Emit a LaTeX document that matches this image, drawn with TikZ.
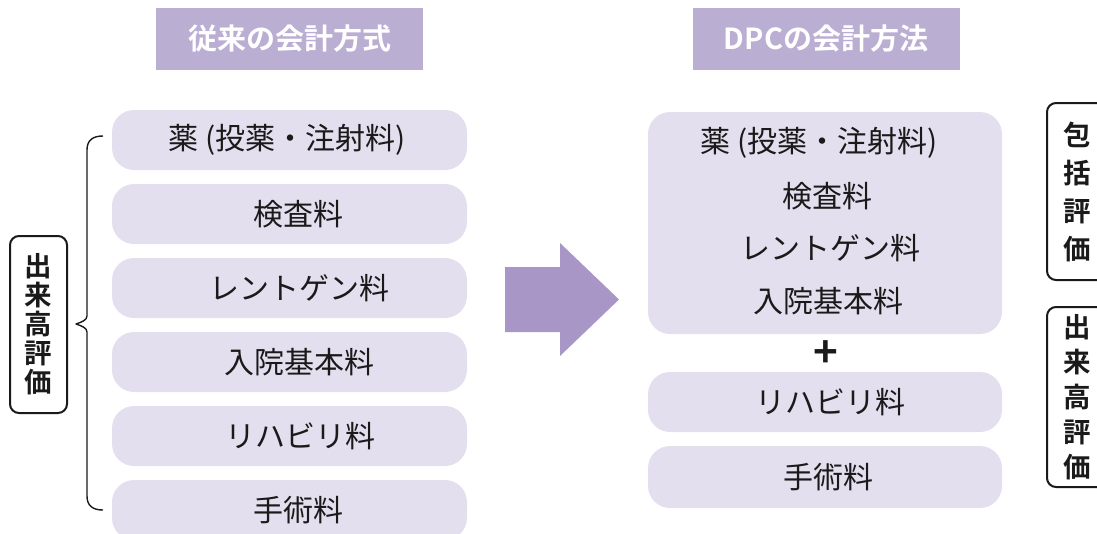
\documentclass[tikz,border=0pt]{standalone}
\usepackage{fontspec}
\newfontfamily\jp{Noto Sans CJK JP}[BoldFont={Noto Sans CJK JP Bold}]
\definecolor{itemfill}{HTML}{E4DFEE}
\definecolor{headfill}{HTML}{BBAED3}
\definecolor{arrowfill}{HTML}{A897C6}
\definecolor{txt}{HTML}{1A1A1A}
\begin{document}
\begin{tikzpicture}[x=1pt,y=-1pt,
  item/.style={fill=itemfill, rounded corners=22pt, minimum width=355pt, minimum height=60pt, inner sep=0pt, text=txt, font=\jp\fontsize{30}{34}\selectfont},
  itemtext/.style={text=txt, inner sep=0pt, font=\jp\fontsize{30}{34}\selectfont},
  head/.style={fill=headfill, minimum width=267pt, minimum height=62pt, inner sep=0pt, text=white, font=\jp\bfseries\fontsize{29}{34}\selectfont},
  lbl/.style={draw=txt, line width=2pt, rounded corners=9pt, inner sep=0pt, align=center, text=txt},
  bracepath/.style={draw=txt, line width=1.4pt, line join=round}]
\useasboundingbox (0,0) rectangle (1097,533);
\clip (0,0) rectangle (1097,533);

% headers
\node[head] (h1) at (289.5,39) {従来の会計方式};
\node[head] (h2) at (826,39) {DPCの会計方法};

% left column
\node[item] (l1) at (289.5,140) {};
\node[itemtext] (t1) at (287,140) {薬 (投薬・注射料)};
\node[item] (l2) at (289.5,214) {};
\node[itemtext] (t2) at (298,214) {検査料};
\node[item] (l3) at (289.5,288) {};
\node[itemtext] (t3) at (299,288) {レントゲン料};
\node[item] (l4) at (289.5,362) {};
\node[itemtext] (t4) at (299,362) {入院基本料};
\node[item] (l5) at (289.5,436) {};
\node[itemtext] (t5) at (300,436) {リハビリ料};
\node[item] (l6) at (289.5,510) {};
\node[itemtext] (t6) at (298,510) {手術料};

% brace
\coordinate (bt) at (103,136);
\coordinate (bb) at (103,510);
\coordinate (btip) at (76,324);
\draw[bracepath] (bt) .. controls (93,136) and (87,140) .. (87,150) -- (87,316) .. controls (87,320) and (82,322) .. (btip) .. controls (82,326) and (87,328) .. (87,332) -- (87,496) .. controls (87,506) and (93,510) .. (bb);

% left label
\node[lbl, minimum width=57pt, minimum height=177pt, font=\jp\bfseries\fontsize{27.5}{29}\selectfont] (lab1) at (38.5,324.5) {出\\来\\高\\評\\価};

% arrow
\fill[arrowfill] (505,267) -- (560,267) -- (560,243) -- (619,299.5) -- (560,356) -- (560,332) -- (505,332) -- cycle;

% right column
\node[item, minimum width=354pt, minimum height=222pt] (r1) at (825,223) {};
\node[itemtext] (rt1) at (819,143) {薬 (投薬・注射料)};
\node[itemtext] (rt2) at (827,196) {検査料};
\node[itemtext] (rt3) at (830,248) {レントゲン料};
\node[itemtext] (rt4) at (828,301) {入院基本料};
\node[text=txt, inner sep=0pt, font=\jp\bfseries\fontsize{42}{42}\selectfont] (plus) at (826,354) {+};
\node[item, minimum width=354pt] (r2) at (825,402) {};
\node[itemtext] (rt5) at (830,402) {リハビリ料};
\node[item, minimum width=354pt, minimum height=62pt] (r3) at (825,477) {};
\node[itemtext] (rt6) at (828,477) {手術料};

% right labels
\node[lbl, minimum width=60pt, minimum height=177pt, font=\jp\bfseries\fontsize{27.5}{38}\selectfont] (lab2) at (1077,191.5) {包\\括\\評\\価};
\node[lbl, minimum width=60pt, minimum height=180pt, font=\jp\bfseries\fontsize{27.5}{35}\selectfont] (lab3) at (1077,397) {出\\来\\高\\評\\価};
\end{tikzpicture}
\end{document}
